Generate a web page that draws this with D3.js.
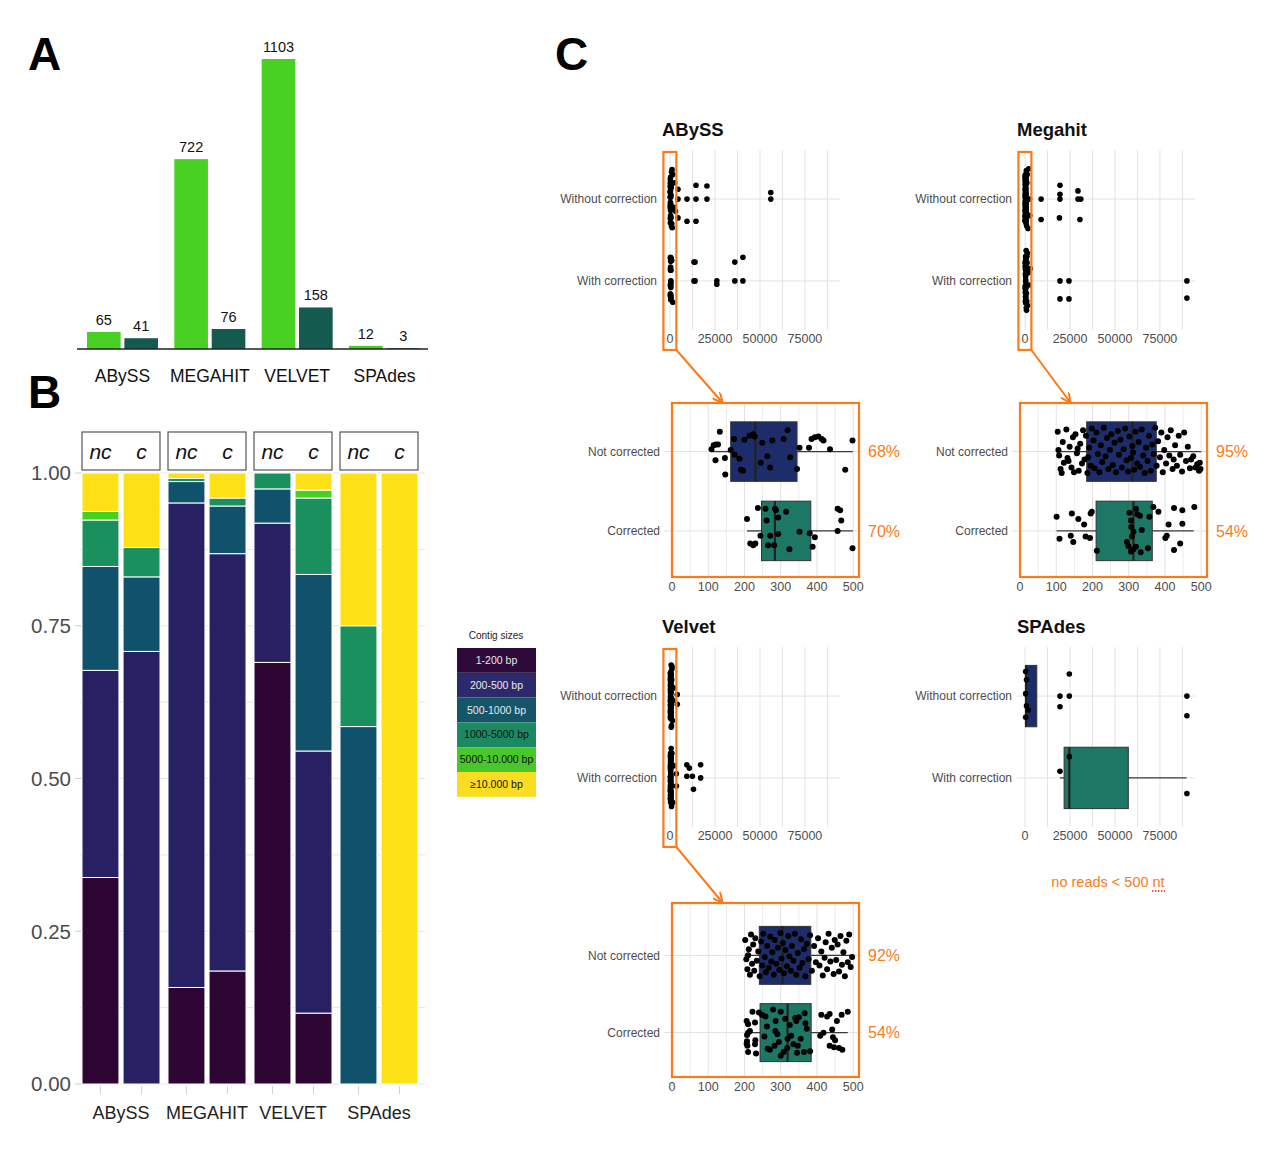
<!DOCTYPE html>
<html>
<head>
<meta charset="utf-8">
<script src="https://cdn.jsdelivr.net/npm/d3@7"></script>
<style>
body { margin: 0; background: #fff; }
text { font-family: "Liberation Sans", Arial, sans-serif; }
</style>
</head>
<body>
<script>
// ---- panel A: number of contigs
var assemblers = ["ABySS", "MEGAHIT", "VELVET", "SPAdes"];
var corrLevels = ["nc", "c"];
var contigsNC = [65, 722, 1103, 12];
var contigsC = [41, 76, 158, 3];

// ---- panel B: share of contig size classes (bars in order ABySS nc, ABySS c, MEGAHIT nc, ...)
var sizeClasses = ["1-200 bp", "200-500 bp", "500-1000 bp", "1000-5000 bp", "5000-10.000 bp", "\u226510.000 bp"];
var barAsm = ["ABySS", "ABySS", "MEGAHIT", "MEGAHIT", "VELVET", "VELVET", "SPAdes", "SPAdes"];
var barCorr = ["nc", "c", "nc", "c", "nc", "c", "nc", "c"];
var share1to200 = [0.338, 0, 0.158, 0.185, 0.690, 0.116, 0, 0];
var share200to500 = [0.339, 0.708, 0.793, 0.683, 0.228, 0.429, 0, 0];
var share500to1000 = [0.170, 0.122, 0.035, 0.078, 0.056, 0.289, 0.585, 0];
var share1000to5000 = [0.076, 0.048, 0.005, 0.013, 0.026, 0.125, 0.165, 0];
var share5000to10000 = [0.014, 0, 0, 0, 0, 0.013, 0, 0];
var share10000plus = [0.063, 0.122, 0.009, 0.041, 0, 0.028, 0.250, 1];
var propTicks = [0, 0.25, 0.5, 0.75, 1];

// ---- panel C: contig lengths
var rowsOverview = ["Without correction", "With correction"];
var rowsZoom = ["Not corrected", "Corrected"];
var overviewTicks = [0, 25000, 50000, 75000];
var zoomTicks = [0, 100, 200, 300, 400, 500];

// box stats: [lower whisker, q1, median, q3, upper whisker]
var abyssBoxNC = [109, 162, 230, 345, 499];
var abyssBoxC = [207, 247, 284, 383, 499];
var megahitBoxNC = [100, 184, 310, 376, 500];
var megahitBoxC = [101, 210, 313, 365, 479];
var velvetBoxNC = [200, 241, 305, 383, 499];
var velvetBoxC = [205, 243, 319, 384, 485];
var spadesBoxNC = [300, 300, 500, 6500, 6500];
var spadesBoxC = [19400, 21700, 24600, 57400, 89800];

var abyssPct = ["68%", "70%"];
var megahitPct = ["95%", "54%"];
var velvetPct = ["92%", "54%"];

// points < 500 nt: [length, jitter]
var abyssPtsNC = [[109,-0.03],[115,-0.08],[121,-0.09],[127,-0.09],[132,-0.25],[120,0.11],[146,0.08],[147,0.29],[162,-0.02],[173,0.04],[186,0.09],[190,0.23],[196,0.24],[171,-0.16],[200,-0.15],[214,-0.2],[224,-0.22],[228,-0.19],[249,-0.11],[245,0.14],[263,0.06],[271,0.2],[277,-0.14],[308,-0.16],[319,-0.27],[326,0.07],[345,0.22],[352,-0.05],[378,-0.05],[385,-0.16],[394,-0.18],[404,-0.19],[413,-0.16],[418,-0.14],[436,-0.03],[478,0.23],[498,-0.14]];
var abyssPtsC = [[207,-0.15],[216,0.16],[224,0.18],[230,0.16],[237,-0.29],[244,0.06],[258,-0.28],[261,-0.13],[265,0.18],[271,0.06],[282,0.18],[284,-0.28],[287,-0.26],[293,-0.17],[293,0.04],[315,-0.24],[324,0.23],[352,0.01],[380,0.03],[394,0.08],[388,0.2],[457,-0.28],[464,-0.26],[467,-0.13],[457,0],[498,0.22]];
var megahitPtsNC = [[104,-0.25],[108,0.05],[112,0.22],[118,-0.12],[121,0.14],[106,-0.02],[115,0.27],
  [128,-0.28],[131,0.08],[137,-0.06],[142,0.2],[146,-0.18],[149,0.26],[134,0.12],
  [153,-0.22],[157,0.02],[162,0.24],[166,-0.1],[171,0.15],[174,-0.27],[159,-0.04],
  [178,0.1],[182,-0.2],[186,0.27],[191,-0.05],[195,0.18],[198,-0.29],[188,0.07],
  [203,-0.14],[206,0.21],[211,-0.24],[215,0.03],[219,0.26],[223,-0.08],
  [227,0.13],[231,-0.3],[236,0.06],[240,-0.17],[244,0.22],[248,-0.02],
  [252,-0.22],[256,0.17],[261,-0.11],[265,0.26],[270,-0.26],[273,0.04],
  [277,-0.15],[281,0.2],[286,-0.03],[290,-0.29],[294,0.11],[298,0.25],
  [302,-0.19],[306,0.08],[310,-0.07],[315,0.23],[319,-0.25],[323,0.15],[312,0.01],
  [327,-0.12],[331,0.19],[336,-0.28],[340,0.05],[344,0.27],[348,-0.05],
  [352,0.12],[356,-0.2],[361,0.24],[365,-0.09],[369,0.03],[373,-0.3],
  [377,0.18],[381,-0.13],[386,0.07],[390,-0.24],[394,0.26],[398,-0.02],
  [403,0.15],[407,-0.18],[412,0.05],[416,-0.27],[421,0.22],[424,0.1],
  [428,-0.08],[433,0.18],[438,-0.2],[442,0.04],[447,0.25],
  [453,-0.24],[458,0.12],[463,-0.06],[469,0.21],[472,0.1],
  [478,0.06],[484,0.2],[489,0.16],[494,0.24],[498,0.22],[496,0.14]];
var megahitPtsC = [[101,-0.18],[109,0.1],[143,-0.22],[147,0.14],[140,0.06],[161,-0.15],[177,-0.08],[181,0.07],[195,-0.22],[198,-0.24],[193,0.09],[212,0.25],[302,-0.23],[306,-0.13],[320,-0.28],[324,-0.21],[331,-0.19],[357,-0.18],[368,-0.3],[382,-0.24],[307,-0.05],[313,0.01],[309,0.07],[295,0.14],[299,0.19],[306,0.26],[313,0.23],[320,0.2],[333,0.27],[336,-0.01],[353,0.22],[410,-0.08],[405,0.06],[401,0.09],[425,-0.29],[448,-0.26],[448,-0.09],[442,0.16],[425,0.24],[481,-0.3]];
var velvetPtsNC = [[202,-0.2],[205,0.05],[208,0.18],[212,-0.08],[215,0.25],[218,-0.27],[221,0.11],[224,-0.14],[210,0.0],
  [227,0.2],[230,-0.22],[234,0.07],[238,-0.05],[242,0.27],[246,-0.18],[249,0.13],
  [252,-0.28],[256,0.02],[259,0.22],[263,-0.12],[267,0.16],[271,-0.24],[274,0.08],
  [277,-0.04],[281,0.25],[284,-0.2],[288,0.11],[292,-0.1],[296,0.19],[299,-0.29],
  [302,0.04],[306,-0.16],[309,0.23],[313,-0.07],[317,0.14],[321,-0.25],[324,0.01],
  [328,0.2],[331,-0.12],[335,0.07],[339,-0.28],[343,0.25],[347,-0.03],
  [352,0.16],[356,-0.21],[360,0.1],[364,-0.08],[368,0.27],[372,-0.15],
  [377,0.05],[381,-0.26],[386,0.2],[392,-0.12],[397,0.09],
  [403,-0.22],[407,0.13],[412,-0.05],[416,0.26],[421,0.03],[424,-0.17],
  [428,0.18],[432,-0.28],[437,0.08],[441,-0.1],[446,0.24],[449,-0.2],
  [453,0.06],[457,-0.14],[461,0.21],[465,-0.25],[469,0.12],[473,-0.04],
  [477,0.27],[481,-0.19],[485,0.09],[489,-0.27],[493,0.15],[497,0.02]];
var velvetPtsC = [[222,-0.27],[206,-0.15],[210,-0.11],[229,-0.13],[207,0.03],[210,0],[207,0.11],[206,0.14],[208,0.17],[210,0.25],[232,0.27],[229,0.15],[248,-0.23],[258,-0.21],[279,-0.3],[286,-0.15],[291,0.02],[283,0.17],[264,0.21],[300,0.3],[308,0.25],[319,0.08],[329,0.04],[340,-0.19],[343,-0.15],[366,-0.25],[368,-0.12],[347,0.17],[364,0.25],[381,0.24],[412,-0.23],[409,0.04],[418,0],[428,-0.21],[435,-0.24],[442,-0.04],[444,0.06],[435,0.17],[447,0.19],[461,0.2],[485,-0.27],[468,-0.23],
  [255,0.05],[262,-0.08],[270,0.22],[285,-0.02],[295,0.12],[312,-0.18],[318,0.2],[325,-0.1],[335,0.15],[350,-0.2],[355,0.08],[372,-0.05],[240,-0.26],[215,-0.02],[450,0.1],[455,-0.15],[470,0.22],[230,0.1],[300,-0.27],[345,0.26]];

// points > 500 nt, only visible in the overview plots
var abyssExtraNC = [[800,-0.33],[1200,0.35],[1500,-0.3],[2000,0.1],[2500,-0.2],[900,0.3],[3000,0.15],[1100,-0.36],[700,0.33],
  [4400,-0.12],[4400,0],[4400,0.23],[9400,0],[9400,0.27],[14400,-0.17],[14400,0],[14400,0.27],[20500,-0.16],[20500,0],[56000,-0.08],[56000,0]];
var abyssExtraC = [[900,-0.25],[1500,0.26],[13300,-0.23],[13300,0],[13900,-0.23],[13900,0],[26000,0],[26000,0.04],[36000,-0.23],[36000,0],[40500,-0.29],[40500,0]];
var megahitExtraNC = [[700,-0.35],[900,0.33],[1200,-0.3],[1600,0.36],[2000,-0.37],[600,0.3],[1000,-0.2],[2500,0.2],
  [2500,0],[2500,0.2],[8900,0],[8900,0.25],[19400,-0.17],[19400,-0.06],[19400,0],[19100,0.23],[29400,-0.1],[29400,0],[31000,0],[30500,0.25]];
var megahitExtraC = [[600,-0.37],[800,0.36],[1000,-0.3],[1400,0.3],[1800,-0.1],[700,0.15],[1100,-0.22],[900,0.25],[2200,0.05],[1300,-0.34],[650,0.33],[2800,-0.15],
  [19400,0],[19400,0.22],[24400,0],[24400,0.22],[90000,0],[90000,0.21]];
var velvetExtraNC = [[600,-0.38],[800,0.36],[1000,-0.33],[1300,0.3],[700,0.2],[900,-0.2],[1600,0.05],[2000,-0.1],[650,0.38],[1100,-0.36],[4000,-0.02],[4000,0.1]];
var velvetExtraC = [[600,-0.36],[800,0.35],[1000,-0.3],[1500,0.3],[700,0.1],[2000,-0.15],[3500,-0.05],[3500,0.1],
  [9300,-0.16],[10700,-0.12],[9300,-0.02],[12400,-0.02],[17000,-0.16],[17000,0],[13000,0.14]];
var spadesPtsNC = [[300,-0.3],[800,-0.2],[300,-0.03],[800,0.12],[1800,0.17],[300,0.26],[24600,-0.27],[24600,0],[19400,0],[19400,0.13],[90000,0],[90000,0.24]];
var spadesPtsC = [[24600,-0.26],[19400,-0.08],[90000,0.19]];

var sizeColors = ["#2d0634", "#272163", "#10526b", "#1a905e", "#44d121", "#fde016"];
var legendColors = ["#2e0a3a", "#2c2a6a", "#155568", "#1b8a62", "#49c72a", "#fadd20"];
var corrColors = {nc: "#48d123", c: "#155a4e"};
var boxFills = ["#1d2d6c", "#1c7865"];
var orange = "#fb7a1a";

var svg = d3.select("body").append("svg")
  .attr("width", 1269)
  .attr("height", 1158);

// panel letters
[["A", 28, 70], ["B", 28, 408], ["C", 555, 70]].forEach(function(l) {
  svg.append("text").attr("x", l[1]).attr("y", l[2]).text(l[0])
    .style("font-size", "46px").style("font-weight", "bold").attr("fill", "#000");
});

// ================= panel A
var xA = d3.scaleBand().domain(assemblers).range([87, 420]).paddingInner(0.187);
var xA2 = d3.scaleBand().domain(corrLevels).range([0, xA.bandwidth()]).paddingInner(0.1);
var yA = d3.scaleLinear().domain([0, d3.max(contigsNC)]).range([349, 59]);
var dataA = [];
assemblers.forEach(function(a, i) {
  dataA.push({a: a, corr: "nc", v: contigsNC[i]});
  dataA.push({a: a, corr: "c", v: contigsC[i]});
});
svg.selectAll(".barA").data(dataA).enter().append("rect")
  .attr("class", "barA")
  .attr("x", function(d) { return xA(d.a) + xA2(d.corr); })
  .attr("y", function(d) { return yA(d.v); })
  .attr("width", xA2.bandwidth())
  .attr("height", function(d) { return yA(0) - yA(d.v); })
  .attr("fill", function(d) { return corrColors[d.corr]; });
svg.selectAll(".lblA").data(dataA).enter().append("text")
  .attr("x", function(d) { return xA(d.a) + xA2(d.corr) + xA2.bandwidth() / 2; })
  .attr("y", function(d) { return yA(d.v) - 7; })
  .attr("text-anchor", "middle")
  .style("font-size", "14.5px").attr("fill", "#111")
  .text(function(d) { return d.v; });
svg.append("line").attr("x1", 77).attr("x2", 428).attr("y1", yA(0)).attr("y2", yA(0))
  .attr("stroke", "#222").attr("stroke-width", 1.5);
svg.selectAll(".catA").data(assemblers).enter().append("text")
  .attr("x", function(d) { return xA(d) + xA.bandwidth() / 2; })
  .attr("y", 382)
  .attr("text-anchor", "middle")
  .style("font-size", "17.5px").attr("fill", "#111")
  .text(function(d) { return d; });

// ================= panel B
var fB = d3.scaleBand().domain(assemblers).range([82, 418]).paddingInner(0.093);
var xB = d3.scaleBand().domain(corrLevels).range([0, fB.bandwidth()]).paddingInner(0.1);
var yB = d3.scaleLinear().domain([0, 1]).range([1084, 473]);

var rowsB = barAsm.map(function(a, i) {
  var r = {asm: a, corr: barCorr[i]};
  r[sizeClasses[0]] = share1to200[i];
  r[sizeClasses[1]] = share200to500[i];
  r[sizeClasses[2]] = share500to1000[i];
  r[sizeClasses[3]] = share1000to5000[i];
  r[sizeClasses[4]] = share5000to10000[i];
  r[sizeClasses[5]] = share10000plus[i];
  return r;
});
var stackB = d3.stack().keys(sizeClasses)(rowsB);

// grid behind bars
svg.selectAll(".gridB").data(d3.range(0, 1.001, 0.125)).enter().append("line")
  .attr("x1", 80).attr("x2", 425)
  .attr("y1", function(d) { return yB(d); }).attr("y2", function(d) { return yB(d); })
  .attr("stroke", "#e4e4e4").attr("stroke-width", 1);
svg.selectAll(".tickB").data(propTicks).enter().append("line")
  .attr("x1", 75).attr("x2", 81)
  .attr("y1", function(d) { return yB(d); }).attr("y2", function(d) { return yB(d); })
  .attr("stroke", "#cfcfcf");
svg.selectAll(".btickB").data(rowsB).enter().append("line")
  .attr("x1", function(d) { return fB(d.asm) + xB(d.corr) + xB.bandwidth() / 2; })
  .attr("x2", function(d) { return fB(d.asm) + xB(d.corr) + xB.bandwidth() / 2; })
  .attr("y1", 1086).attr("y2", 1094)
  .attr("stroke", "#d0d0d0");

svg.selectAll(".serB").data(stackB).enter().append("g")
  .attr("fill", function(d, i) { return sizeColors[i]; })
  .selectAll("rect").data(function(d) { return d; }).enter().append("rect")
  .attr("x", function(d) { return fB(d.data.asm) + xB(d.data.corr); })
  .attr("y", function(d) { return yB(d[1]); })
  .attr("width", xB.bandwidth())
  .attr("height", function(d) { return yB(d[0]) - yB(d[1]); })
  .attr("stroke", "#fff").attr("stroke-width", function(d) { return d[1] > d[0] ? 1 : 0; });

svg.selectAll(".ylabB").data(propTicks).enter().append("text")
  .attr("x", 71).attr("y", function(d) { return yB(d); }).attr("dy", "0.36em")
  .attr("text-anchor", "end")
  .style("font-size", "20.5px").attr("fill", "#4d4d4d")
  .text(function(d) { return d3.format(".2f")(d); });

// facet strips
svg.selectAll(".stripB").data(assemblers).enter().append("rect")
  .attr("x", function(d) { return fB(d); }).attr("y", 432)
  .attr("width", fB.bandwidth()).attr("height", 38)
  .attr("fill", "#fff").attr("stroke", "#555").attr("stroke-width", 1.2);
svg.selectAll(".stripLbl").data(rowsB).enter().append("text")
  .attr("x", function(d) { return fB(d.asm) + xB(d.corr) + xB.bandwidth() / 2; })
  .attr("y", 459)
  .attr("text-anchor", "middle")
  .style("font-size", "21px").style("font-style", "italic").attr("fill", "#111")
  .text(function(d) { return d.corr; });
svg.selectAll(".catB").data(assemblers).enter().append("text")
  .attr("x", function(d) { return fB(d) + fB.bandwidth() / 2; })
  .attr("y", 1119)
  .attr("text-anchor", "middle")
  .style("font-size", "18px").attr("fill", "#222")
  .text(function(d) { return d; });

// legend
svg.append("text").attr("x", 496).attr("y", 639).attr("text-anchor", "middle")
  .style("font-size", "10px").attr("fill", "#222").text("Contig sizes");
var leg = svg.selectAll(".leg").data(sizeClasses).enter().append("g")
  .attr("transform", function(d, i) { return "translate(457," + (648 + i * 24.8) + ")"; });
leg.append("rect").attr("width", 79).attr("height", 24.8)
  .attr("fill", function(d, i) { return legendColors[i]; });
leg.append("text").attr("x", 39.5).attr("y", 12.4).attr("dy", "0.35em")
  .attr("text-anchor", "middle").style("font-size", "10.5px")
  .attr("fill", function(d, i) { return i < 3 ? "#e8e8ee" : "#111"; })
  .text(function(d) { return d; });

// ================= panel C
var defs = svg.append("defs");
defs.append("marker").attr("id", "arr").attr("viewBox", "0 0 10 10")
  .attr("refX", 9).attr("refY", 5).attr("markerWidth", 5).attr("markerHeight", 5)
  .attr("orient", "auto")
  .append("path").attr("d", "M0,0 L10,5 L0,10").attr("fill", "none")
  .attr("stroke", orange).attr("stroke-width", 2);

function drawBoxes(g, stats, x, y, rows) {
  var hh = 0.75 * y.step() / 2;
  var bx = g.selectAll(".bx").data(stats.map(function(s, i) { return {s: s, row: rows[i], fill: boxFills[i]}; }))
    .enter().append("g");
  bx.append("line").attr("x1", function(d) { return x(d.s[0]); }).attr("x2", function(d) { return x(d.s[1]); })
    .attr("y1", function(d) { return y(d.row); }).attr("y2", function(d) { return y(d.row); })
    .attr("stroke", "#3a3a3a").attr("stroke-width", 1.3);
  bx.append("line").attr("x1", function(d) { return x(d.s[3]); }).attr("x2", function(d) { return x(d.s[4]); })
    .attr("y1", function(d) { return y(d.row); }).attr("y2", function(d) { return y(d.row); })
    .attr("stroke", "#3a3a3a").attr("stroke-width", 1.3);
  bx.append("rect").attr("x", function(d) { return x(d.s[1]); })
    .attr("y", function(d) { return y(d.row) - hh; })
    .attr("width", function(d) { return x(d.s[3]) - x(d.s[1]); })
    .attr("height", 2 * hh)
    .attr("fill", function(d) { return d.fill; }).attr("stroke", "#333").attr("stroke-width", 1);
  bx.append("line").attr("x1", function(d) { return x(d.s[2]); }).attr("x2", function(d) { return x(d.s[2]); })
    .attr("y1", function(d) { return y(d.row) - hh; }).attr("y2", function(d) { return y(d.row) + hh; })
    .attr("stroke", "#222").attr("stroke-width", 2.2);
}

function drawPoints(g, sets, x, y, rows, r) {
  var pts = [];
  sets.forEach(function(list, i) {
    list.forEach(function(p) { pts.push({row: rows[i], v: p[0], j: p[1]}); });
  });
  g.selectAll(".pt").data(pts).enter().append("circle")
    .attr("cx", function(d) { return x(d.v); })
    .attr("cy", function(d) { return y(d.row) + d.j * y.step(); })
    .attr("r", r).attr("fill", "#000");
}

function overview(o) {
  var g = svg.append("g");
  var x = d3.scaleLinear().domain([-4500, 94500]).range([o.left, o.left + 178]);
  var y = d3.scalePoint().domain(rowsOverview).range([o.top, o.top + 180]).padding(0.6);
  g.append("text").attr("x", o.left).attr("y", o.top - 14).text(o.title)
    .style("font-size", "18.5px").style("font-weight", "bold").attr("fill", "#111");
  g.selectAll(".vg").data(d3.range(0, 90000, 12500)).enter().append("line")
    .attr("x1", function(d) { return x(d); }).attr("x2", function(d) { return x(d); })
    .attr("y1", o.top).attr("y2", o.top + 180)
    .attr("stroke", "#e3e3e3");
  g.selectAll(".hg").data(rowsOverview).enter().append("line")
    .attr("x1", o.left).attr("x2", o.left + 178)
    .attr("y1", function(d) { return y(d); }).attr("y2", function(d) { return y(d); })
    .attr("stroke", "#e3e3e3");
  if (o.boxes) drawBoxes(g, o.boxes, x, y, rowsOverview);
  drawPoints(g, o.points, x, y, rowsOverview, 2.8);
  g.selectAll(".xt").data(overviewTicks).enter().append("text")
    .attr("x", function(d) { return x(d); }).attr("y", o.top + 189).attr("dy", "0.35em")
    .attr("text-anchor", "middle").style("font-size", "12.5px").attr("fill", "#4d4d4d")
    .text(function(d) { return d; });
  g.selectAll(".yt").data(rowsOverview).enter().append("text")
    .attr("x", o.left - 5).attr("y", function(d) { return y(d); }).attr("dy", "0.35em")
    .attr("text-anchor", "end").style("font-size", "12px").attr("fill", "#4d4d4d")
    .text(function(d) { return d; });
  if (o.frame) {
    g.append("rect").attr("x", x(-3700)).attr("y", o.top + 2)
      .attr("width", x(3500) - x(-3700)).attr("height", 198)
      .attr("fill", "none").attr("stroke", orange).attr("stroke-width", 2.2);
    g.append("line").attr("x1", x(3500)).attr("y1", o.top + 200)
      .attr("x2", o.frame[0] + 50).attr("y2", o.frame[1] - 1)
      .attr("stroke", orange).attr("stroke-width", 2).attr("marker-end", "url(#arr)");
  }
}

function zoomBox(o) {
  var g = svg.append("g");
  var x = d3.scaleLinear().domain([0, 516]).range([o.left, o.left + 187]);
  var y = d3.scalePoint().domain(rowsZoom).range([o.top, o.top + o.h]).padding(0.6);
  g.selectAll(".vg").data(d3.range(0, 501, 50)).enter().append("line")
    .attr("x1", function(d) { return x(d); }).attr("x2", function(d) { return x(d); })
    .attr("y1", o.fTop).attr("y2", o.fBottom)
    .attr("stroke", function(d) { return d % 100 === 0 ? "#e2e2e2" : "#ececec"; });
  g.selectAll(".hg").data(rowsZoom).enter().append("line")
    .attr("x1", o.left - 8).attr("x2", o.left + 190)
    .attr("y1", function(d) { return y(d); }).attr("y2", function(d) { return y(d); })
    .attr("stroke", "#e2e2e2");
  drawBoxes(g, o.boxes, x, y, rowsZoom);
  drawPoints(g, o.points, x, y, rowsZoom, 3);
  g.append("rect").attr("x", o.left).attr("y", o.fTop)
    .attr("width", 187).attr("height", o.fBottom - o.fTop)
    .attr("fill", "none").attr("stroke", orange).attr("stroke-width", 2.2);
  g.selectAll(".xt").data(zoomTicks).enter().append("text")
    .attr("x", function(d) { return x(d); }).attr("y", o.fBottom + 10).attr("dy", "0.35em")
    .attr("text-anchor", "middle").style("font-size", "12.5px").attr("fill", "#4d4d4d")
    .text(function(d) { return d; });
  g.selectAll(".yt").data(rowsZoom).enter().append("text")
    .attr("x", o.left - 12).attr("y", function(d) { return y(d); }).attr("dy", "0.35em")
    .attr("text-anchor", "end").style("font-size", "12px").attr("fill", "#4d4d4d")
    .text(function(d) { return d; });
  g.selectAll(".pct").data(o.pct).enter().append("text")
    .attr("x", o.left + 196).attr("y", function(d, i) { return y(rowsZoom[i]); }).attr("dy", "0.35em")
    .style("font-size", "16px").attr("fill", orange)
    .text(function(d) { return d; });
}

overview({title: "ABySS", left: 662, top: 150, frame: [672, 403],
  points: [abyssPtsNC.concat(abyssExtraNC), abyssPtsC.concat(abyssExtraC)]});
overview({title: "Megahit", left: 1017, top: 150, frame: [1020, 403],
  points: [megahitPtsNC.concat(megahitExtraNC), megahitPtsC.concat(megahitExtraC)]});
overview({title: "Velvet", left: 662, top: 647, frame: [672, 903],
  points: [velvetPtsNC.concat(velvetExtraNC), velvetPtsC.concat(velvetExtraC)]});
overview({title: "SPAdes", left: 1017, top: 647,
  boxes: [spadesBoxNC, spadesBoxC], points: [spadesPtsNC, spadesPtsC]});

zoomBox({left: 672, top: 404, h: 174.5, fTop: 403, fBottom: 577,
  boxes: [abyssBoxNC, abyssBoxC], points: [abyssPtsNC, abyssPtsC], pct: abyssPct});
zoomBox({left: 1020, top: 404, h: 174.5, fTop: 403, fBottom: 577,
  boxes: [megahitBoxNC, megahitBoxC], points: [megahitPtsNC, megahitPtsC], pct: megahitPct});
zoomBox({left: 672, top: 909, h: 170, fTop: 903, fBottom: 1077,
  boxes: [velvetBoxNC, velvetBoxC], points: [velvetPtsNC, velvetPtsC], pct: velvetPct});

// note under SPAdes
svg.append("text").attr("x", 1108).attr("y", 887).attr("text-anchor", "middle")
  .style("font-size", "14.5px").attr("fill", orange).text("no reads < 500 nt");
svg.append("line").attr("x1", 1152).attr("x2", 1165).attr("y1", 891).attr("y2", 891)
  .attr("stroke", "#e0202a").attr("stroke-width", 1.5).attr("stroke-dasharray", "1.5,1.5");
</script>
</body>
</html>
